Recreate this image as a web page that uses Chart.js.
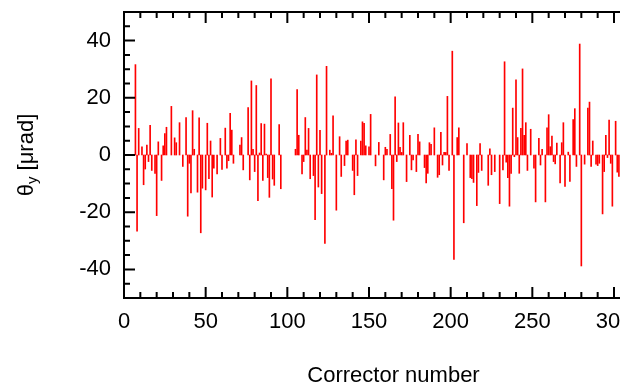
<!DOCTYPE html>
<html>
<head>
<meta charset="utf-8">
<script src="https://cdn.jsdelivr.net/npm/chart.js@4.4.1/dist/chart.umd.min.js"></script>
<style>
html,body{margin:0;padding:0;overflow:hidden;background:#fff;width:620px;height:386px}
canvas{display:block}
</style>
</head>
<body>
<canvas id="c" width="680" height="386" style="width:680px;height:386px"></canvas>
<script>
// Corrector numbers with a visible kick, and the vertical kick angle theta_y [urad]
const corrector = [
  7,8,9,11,12,13,14,15,16,17,19,20,21,23,24,25,26,29,31,32,34,36,
  38,39,40,41,42,43,45,46,47,48,50,51,52,53,54,55,57,59,60,62,63,64,65,66,67,71,72,73,76,77,
  78,79,80,81,82,83,84,85,86,87,88,89,90,91,92,95,96,105,106,107,109,110,111,112,113,114,116,
  117,118,119,120,121,123,124,126,127,128,130,132,133,135,136,137,140,141,142,143,145,146,147,148,150,151,154,
  156,159,160,161,163,164,165,166,167,168,169,170,171,173,175,176,177,179,180,181,184,185,186,187,188,190,192,193,194,
  195,196,197,198,199,201,202,204,205,208,210,212,213,214,216,217,218,219,223,224,225,227,230,232,233,
  234,235,236,237,238,239,240,241,242,243,244,245,246,247,249,251,252,254,255,256,258,259,260,261,262,263,264,265,267,268,269,270,272,273,
  275,276,277,279,280,282,284,285,286,287,289,290,291,293,294,295,296,297,298,299,301,302,303
];
const thetaY = [
  31.6,-26.6,9.3,2.9,-10.4,-4.9,3.5,-2.3,10.4,-5.4,-6.4,-21.2,4.6,-8.9,3.2,7.5,9.7,17,6,4.3,11.3,-4,
  13.1,-21.4,-2.9,-13.3,15.5,2,-13,13,-27.2,-11.6,-12.2,11.1,-8.3,4.9,-14.7,-4.6,-6.6,5.8,-5,9.4,-4.6,-2,14.6,8.7,-2.9,3.5,6.1,-5.2,16.6,-8.7,
  25.9,2,-5.8,24.3,-16,0.7,11,-8.9,10.8,0.3,-7.9,-14.8,26.6,-8.4,-10.6,10.6,-11.8,2,22.9,6.9,-6.6,-2.3,13.1,1.7,9.3,-8.3,-7.2,
  -22.6,28,-11.2,8.6,-13.5,-30.9,31,1.7,0.6,13.7,-19.3,6.4,-7.5,-3.7,4.9,5.2,-5.4,-13.9,5.3,-7.2,4.9,11.6,11.1,3.2,2.9,14.2,-3.8,
  4.4,-8.7,2.7,2,7.2,-11.8,-22.8,20.3,-2.3,11.2,2.7,0.9,11.3,-9.3,6.9,-5.2,-1.7,-5.8,7.2,4.6,-4.4,-9.8,-6.4,4.3,3.7,9.5,-7.8,-6.9,7.9,
  -3.5,0.9,0.9,20.5,-5.4,36.3,-36.5,6.1,9.5,-23.7,4,-7.9,-8.3,-9.6,-17.7,-6.1,4,-5.4,-10.6,2.2,-6.9,-5.8,-17,-5.2,32.6,
  -2.5,-7.9,-17.9,-6.4,16.4,-0.6,26.3,6.1,-6.4,9.3,30.1,6.9,11.3,-5.4,9,-4.6,-16.4,5.8,-3.5,2,-16.4,9.5,14.1,2.9,6.6,-2.3,-3.1,4.2,-9.8,4.3,11.3,-11,1,-9.2,
  12.4,16.2,-4,38.8,-38.8,-3.2,16.4,18.5,-4,4.9,-3.2,-3.7,-2.9,-20.6,-5.8,6.9,-0.9,12.2,-2.9,-17.9,11.8,-6,-7.5
];
const xTickLabels = [0, 50, 100, 150, 200, 250, 300];
const yTickLabels = [-40, -20, 0, 20, 40];
const xTitle = 'Corrector number';
const yTitleMain = '\u03b8';
const yTitleSub = 'y';
const yTitleRest = ' [\u03bcrad]';

const FONT = '"Liberation Sans", Arial, sans-serif';
const FS = 22;

const points = corrector.map((c, i) => ({x: c, y: thetaY[i]}));

const framePlugin = {
  id: 'frame',
  afterDatasetsDraw(chart) {
    const {ctx, chartArea: {left, top, right, bottom}, scales: {x, y}} = chart;
    ctx.save();
    ctx.strokeStyle = '#000';
    ctx.lineWidth = 2;
    ctx.strokeRect(left, top, right - left, bottom - top);
    ctx.beginPath();
    for (let v = -50; v <= 50; v += 5) {
      const len = (v % 20 === 0) ? 11 : 6;
      const py = y.getPixelForValue(v);
      ctx.moveTo(left, py); ctx.lineTo(left + len, py);
      ctx.moveTo(right, py); ctx.lineTo(right - len, py);
    }
    for (let v = 0; v <= x.max; v += 10) {
      const len = (v % 50 === 0) ? 11 : 6;
      const px = x.getPixelForValue(v);
      ctx.moveTo(px, top); ctx.lineTo(px, top + len);
      ctx.moveTo(px, bottom); ctx.lineTo(px, bottom - len);
    }
    ctx.stroke();

    // axis titles
    ctx.fillStyle = '#000';
    ctx.font = FS + 'px ' + FONT;
    ctx.textAlign = 'center';
    ctx.textBaseline = 'middle';
    ctx.fillText(xTitle, (left + right) / 2, 376);

    ctx.translate(27, (top + bottom) / 2);
    ctx.rotate(-Math.PI / 2);
    ctx.textAlign = 'left';
    ctx.textBaseline = 'middle';
    const subFont = '15px ' + FONT;
    const mainFont = FS + 'px ' + FONT;
    ctx.font = mainFont; const w1 = ctx.measureText(yTitleMain).width;
    const w3 = ctx.measureText(yTitleRest).width;
    ctx.font = subFont; const w2 = ctx.measureText(yTitleSub).width;
    let x0 = -(w1 + w2 + w3) / 2;
    ctx.font = mainFont; ctx.fillText(yTitleMain, x0, 0);
    ctx.font = subFont; ctx.fillText(yTitleSub, x0 + w1, 6);
    ctx.font = mainFont; ctx.fillText(yTitleRest, x0 + w1 + w2, 0);
    ctx.restore();
  }
};

new Chart(document.getElementById('c'), {
  type: 'bar',
  data: {
    datasets: [{
      data: points,
      backgroundColor: '#ff0000',
      borderWidth: 0,
      barThickness: 1
    }]
  },
  options: {
    responsive: false,
    animation: false,
    devicePixelRatio: 1,
    layout: {padding: {left: 0, top: 12, right: 17, bottom: 0}},
    plugins: {legend: {display: false}, tooltip: {enabled: false}},
    scales: {
      x: {
        type: 'linear', min: 0, max: 330, offset: false,
        grid: {display: false, drawTicks: false},
        border: {display: false},
        afterBuildTicks: s => { s.ticks = xTickLabels.map(v => ({value: v})); },
        ticks: {font: {family: FONT, size: FS}, color: '#000', padding: 11, maxRotation: 0, autoSkip: false},
        afterFit: s => { s.height = 88; s.paddingLeft = 0; s.paddingRight = 0; }
      },
      y: {
        min: -50, max: 50,
        grid: {display: false, drawTicks: false},
        border: {display: false},
        afterBuildTicks: s => { s.ticks = yTickLabels.map(v => ({value: v})); },
        ticks: {font: {family: FONT, size: FS}, color: '#000', padding: 13},
        afterFit: s => { s.width = 124; s.paddingTop = 0; s.paddingBottom = 0; }
      }
    }
  },
  plugins: [framePlugin]
});
</script>
</body>
</html>
